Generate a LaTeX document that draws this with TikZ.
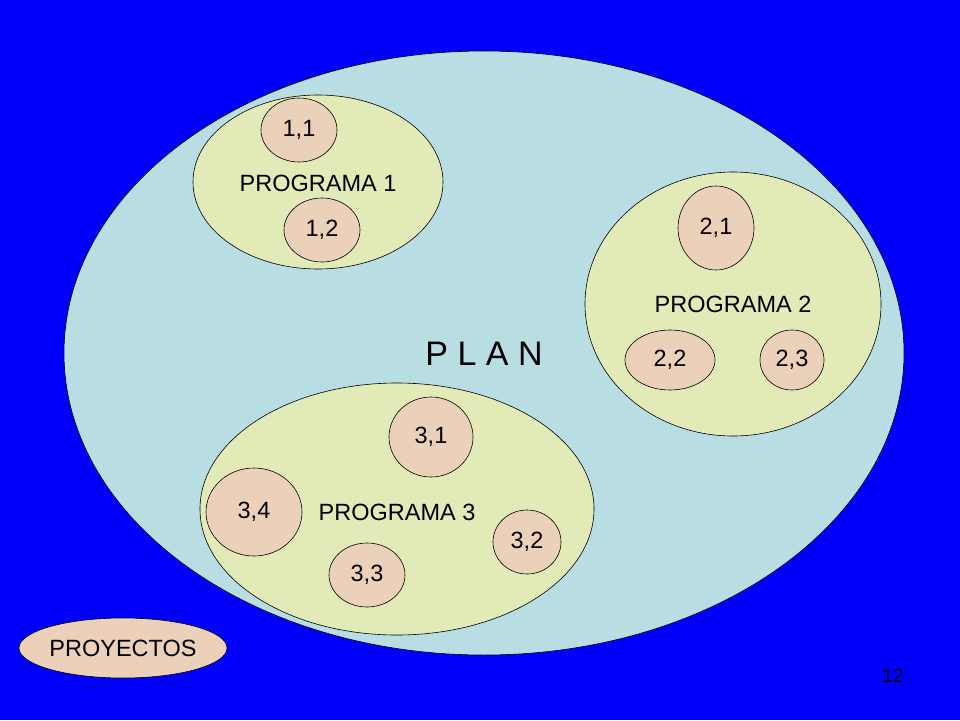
\documentclass[tikz,border=0pt]{standalone}
\usepackage{fontspec}
\setmainfont{Liberation Sans}
\usetikzlibrary{shapes.geometric}
\definecolor{bg}{RGB}{0,0,250}
\definecolor{plan}{RGB}{184,222,227}
\definecolor{prog}{RGB}{226,235,184}
\definecolor{proj}{RGB}{235,208,186}
\tikzset{
 el/.style={ellipse,draw=black,line width=0.6pt,inner sep=0pt,minimum width=2*#1},
 pr/.style={el=1pt,fill=prog},
 sm/.style={el=1pt,fill=proj,font=\fontsize{23.5}{26}\selectfont},
 lbl/.style={font=\fontsize{23.5}{26}\selectfont}
}
\begin{document}
\begin{tikzpicture}[x=1pt,y=-1pt]
\fill[bg] (0,0) rectangle (960,720);
\useasboundingbox (0,0) rectangle (960,720);
\node[el=1pt,fill=plan,minimum width=840,minimum height=604] (plan) at (484,353) {};
\node[pr,minimum width=250,minimum height=174] (p1) at (318,182) {};
\node[pr,minimum width=296,minimum height=264] (p2) at (733,304) {};
\node[pr,minimum width=394,minimum height=252] (p3) at (397,509) {};
\node[lbl] (l1) at (318,183) {PROGRAMA 1};
\node[lbl] (l2) at (733,304) {PROGRAMA 2};
\node[lbl] (l3) at (397,512) {PROGRAMA 3};
\node[font=\fontsize{34}{40}\selectfont] (lp) at (484,354) {P L A N};
\node[sm,minimum width=76,minimum height=64] (a11) at (299,130) {1,1};
\node[sm,minimum width=76,minimum height=64] (a12) at (322,230) {1,2};
\node[sm,minimum width=76,minimum height=84] (a21) at (716,228) {2,1};
\node[sm,minimum width=90,minimum height=60] (a22) at (670,360) {2,2};
\node[sm,minimum width=64,minimum height=60] (a23) at (792,360) {2,3};
\node[sm,minimum width=84,minimum height=80] (a31) at (431,437) {3,1};
\node[sm,minimum width=96,minimum height=88] (a34) at (254,512) {3,4};
\node[sm,minimum width=68,minimum height=64] (a32) at (527,542) {3,2};
\node[sm,minimum width=76,minimum height=64] (a33) at (367,575) {3,3};
\node[sm,minimum width=190,minimum height=60] (pj) at (123,648) {PROYECTOS};
\node[font=\fontsize{19}{22}\selectfont] (num) at (893,676) {12};
\end{tikzpicture}
\end{document}
